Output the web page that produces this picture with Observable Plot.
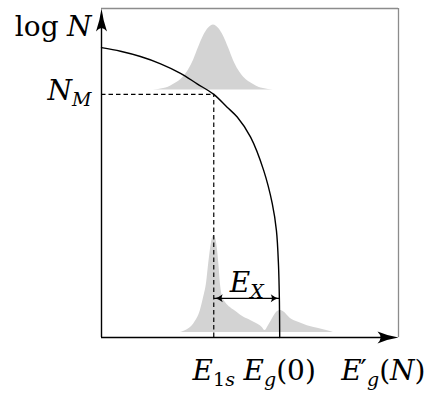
<!DOCTYPE html>
<html>
<head>
<meta charset="utf-8">
<script src="https://cdn.jsdelivr.net/npm/d3@7"></script>
<script src="https://cdn.jsdelivr.net/npm/@observablehq/plot@0.6"></script>
<style>
  html, body { margin: 0; padding: 0; background: #fff; }
</style>
</head>
<body>
<div id="chart"></div>
<script>
// Band-gap renormalisation sketch: gap energy E'_g(N) versus log N,
// with the exciton line at low density and the plasma band at N_M.

// Key energies / densities (arbitrary units)
const E1s = 3.78;   // exciton 1s line
const Eg0 = 6.0;    // unrenormalised gap
const NM = 7.39;    // Mott density (log N)
const exY = 1.19;   // height of the E_X marker

// Renormalised gap E'_g(N)
const gapE    = [0.00, 0.64, 1.31, 1.99, 2.66, 3.22, 3.78, 4.23, 4.57, 5.02, 5.46, 5.75, 5.89, 5.96, 5.99, 6.00];
const gapLogN = [8.81, 8.70, 8.54, 8.32, 8.03, 7.71, 7.39, 7.00, 6.70, 6.09, 5.08, 4.07, 3.25, 2.19, 1.12, 0.00];

// Emission band at high density (sits on log N = highBase)
const highBase = 7.52;
const highE    = [1.75, 1.92, 2.09, 2.25, 2.42, 2.59, 2.76, 2.93, 3.10, 3.26, 3.43, 3.60, 3.77, 3.94, 4.11, 4.28, 4.44, 4.61, 4.78, 4.95, 5.12, 5.29, 5.45, 5.62, 5.79];
const highLogN = [7.52, 7.54, 7.57, 7.61, 7.69, 7.78, 7.92, 8.13, 8.43, 8.80, 9.16, 9.40, 9.50, 9.40, 9.16, 8.80, 8.43, 8.13, 7.92, 7.78, 7.69, 7.61, 7.57, 7.54, 7.52];

// Emission spectrum at low density (exciton line + band edge)
const lowBase = 0.15;
const lowE    = [2.66, 2.90, 3.11, 3.33, 3.44, 3.54, 3.61, 3.70, 3.78, 3.86, 3.90, 3.95, 4.01, 4.07, 4.18, 4.34, 4.57, 4.78, 5.02, 5.25, 5.42, 5.50, 5.62, 5.76, 5.89, 6.03, 6.13, 6.36, 6.63, 6.93, 7.31, 7.71, 7.81];
const lowLogN = [0.15, 0.24, 0.42, 0.82, 1.22, 1.67, 2.25, 2.86, 3.10, 2.95, 2.71, 2.25, 1.58, 1.25, 1.06, 0.91, 0.76, 0.62, 0.52, 0.41, 0.30, 0.21, 0.36, 0.58, 0.76, 0.82, 0.78, 0.58, 0.46, 0.36, 0.27, 0.18, 0.15];

// Labels (TeX-like: _ subscript, ' prime)
const xTickLabels = ["E_{1s}", "E_{g}(0)"];
const xTickValues = [E1s, Eg0];
const xAxisLabel = "E'_{g}(N)";
const yAxisLabel = "log N";
const yTickLabel = "N_{M}";
const exLabel = "E_{X}";

const gap  = gapE.map((e, i) => ({e, n: gapLogN[i]}));
const high = highE.map((e, i) => ({e, n: highLogN[i]}));
const low  = lowE.map((e, i) => ({e, n: lowLogN[i]}));

const SERIF = "DejaVu Serif";
const MAIN = 28, SCRIPT = 19;
const FILL = "#d3d3d3";
const FRAME = "#8c8c8c";

// Arrowheads drawn as custom dot symbols (tip at the dot position)
const headUp = {draw(c) {
  c.moveTo(0, 0);
  c.quadraticCurveTo(1.6, 12, 5.5, 23);
  c.quadraticCurveTo(0, 16, -5.5, 23);
  c.quadraticCurveTo(-1.6, 12, 0, 0);
  c.closePath();
}};
const headRight = {draw(c) {
  c.moveTo(0, 0);
  c.quadraticCurveTo(-11, -1.7, -21, -6);
  c.quadraticCurveTo(-15, 0, -21, 6);
  c.quadraticCurveTo(-11, 1.7, 0, 0);
  c.closePath();
}};
const smallRight = {draw(c) {
  c.moveTo(-1.5, 0);
  c.quadraticCurveTo(-5, -1, -9, -4);
  c.quadraticCurveTo(-6.5, 0, -9, 4);
  c.quadraticCurveTo(-5, 1, -1.5, 0);
  c.closePath();
}};
const smallLeft = {draw(c) {
  c.moveTo(1.5, 0);
  c.quadraticCurveTo(5, -1, 9, -4);
  c.quadraticCurveTo(6.5, 0, 9, 4);
  c.quadraticCurveTo(5, 1, 1.5, 0);
  c.closePath();
}};

const textBase = {fontSize: MAIN, fontFamily: SERIF, fill: "black", lineAnchor: "bottom"};

const svg = Plot.plot({
  width: 429,
  height: 396,
  marginLeft: 101,
  marginRight: 31,
  marginTop: 8,
  marginBottom: 59,
  x: {domain: [0, 10], axis: null},
  y: {domain: [0, 10], axis: null},
  style: {fontFamily: SERIF, background: "white", overflow: "visible"},
  marks: [
    // spectra
    Plot.areaY(high, {x: "e", y1: () => highBase, y2: "n", fill: FILL, curve: "monotone-x"}),
    Plot.areaY(low, {x: "e", y1: () => lowBase, y2: "n", fill: FILL, curve: "monotone-x"}),
    // frame (top and right)
    Plot.ruleY([10], {x1: 0, x2: 10, stroke: FRAME, strokeWidth: 1.3}),
    Plot.ruleX([10], {y1: 0, y2: 10, stroke: FRAME, strokeWidth: 1.3}),
    // guides at N_M and E_1s
    Plot.ruleY([NM], {x1: 0, x2: E1s, stroke: "black", strokeWidth: 1.2, strokeDasharray: "4.5,3"}),
    Plot.ruleX([E1s], {y1: 0, y2: NM, stroke: "black", strokeWidth: 1.2, strokeDasharray: "4.5,3"}),
    // gap curve
    Plot.line(gap, {x: "e", y: "n", stroke: "black", strokeWidth: 1.4, curve: "catmull-rom"}),
    // exciton binding energy marker
    Plot.link([0], {x1: E1s, x2: Eg0, y1: exY, y2: exY, stroke: "black", strokeWidth: 1.2}),
    Plot.dot([0], {x: E1s, y: exY, symbol: smallLeft, fill: "black", stroke: "none"}),
    Plot.dot([0], {x: Eg0, y: exY, symbol: smallRight, fill: "black", stroke: "none"}),
    // axes
    Plot.ruleX([0], {y1: 0, y2: 9.8, stroke: "black", strokeWidth: 1.4}),
    Plot.ruleY([0], {x1: 0, x2: 9.8, stroke: "black", strokeWidth: 1.4}),
    Plot.dot([0], {x: 0, y: 10, symbol: headUp, fill: "black", stroke: "none"}),
    Plot.dot([0], {x: 10, y: 0, symbol: headRight, fill: "black", stroke: "none"}),
    // labels
    Plot.text([yAxisLabel], {...textBase, text: d => d, frameAnchor: "top-left", textAnchor: "end", dx: -10, dy: 27}),
    Plot.text([yTickLabel], {...textBase, text: d => d, x: 0, y: NM, textAnchor: "end", dx: -10, dy: 6}),
    Plot.text(xTickLabels, {...textBase, text: d => d, x: (d, i) => xTickValues[i], y: 0, textAnchor: "middle", dy: 42}),
    Plot.text([xAxisLabel], {...textBase, text: d => d, frameAnchor: "bottom-right", textAnchor: "end", dx: 27, dy: 42}),
    Plot.text([exLabel], {...textBase, text: d => d, x: (E1s + Eg0) / 2, y: exY, textAnchor: "middle", dy: -6})
  ]
});

// Typeset the TeX-like label strings as tspans (italic letters, sub/superscripts)
function tokenize(src) {
  const out = [];
  let i = 0;
  while (i < src.length) {
    const c = src[i];
    if (c === "_" || c === "^") {
      let g;
      if (src[i + 1] === "{") { const j = src.indexOf("}", i); g = src.slice(i + 2, j); i = j + 1; }
      else { g = src[i + 1]; i += 2; }
      out.push({text: g, level: c === "_" ? "sub" : "sup"});
    } else if (c === "'") {
      out.push({text: "\u2032", level: "base", upright: true, dx: -1}); i++;
    } else if (src.startsWith("log", i)) {
      out.push({text: "log", level: "base", upright: true}); i += 3;
    } else if (c === " ") {
      out.push({space: true}); i++;
    } else {
      out.push({text: c, level: "base"}); i++;
    }
  }
  return out;
}
const SHIFT = {base: 0, sub: 6, sup: -10};
const NS = "http://www.w3.org/2000/svg";
const sources = new Set([yAxisLabel, yTickLabel, xAxisLabel, exLabel, ...xTickLabels]);
svg.querySelectorAll("text").forEach(el => {
  const src = el.textContent;
  if (!sources.has(src)) return;
  el.textContent = "";
  el.style.fontFamily = `"${SERIF}"`;
  let cur = 0, pendingDx = 0;
  tokenize(src).forEach(tok => {
    if (tok.space) { pendingDx += 0.3 * MAIN; return; }
    const size = tok.level === "base" ? MAIN : SCRIPT;
    const target = SHIFT[tok.level];
    pendingDx += tok.dx || 0;
    const runs = tok.upright ? [[tok.text, false]] :
      Array.from(tok.text).map(ch => [ch, /[A-Za-z]/.test(ch)]);
    runs.forEach(([t, it]) => {
      const ts = document.createElementNS(NS, "tspan");
      ts.textContent = t;
      if (it) ts.setAttribute("font-style", "italic");
      if (size !== MAIN) ts.setAttribute("font-size", size);
      const dy = target - cur;
      if (dy) ts.setAttribute("dy", dy);
      cur = target;
      if (pendingDx) ts.setAttribute("dx", pendingDx.toFixed(2));
      pendingDx = 0;
      el.appendChild(ts);
    });
  });
});

document.getElementById("chart").appendChild(svg);
</script>
</body>
</html>
